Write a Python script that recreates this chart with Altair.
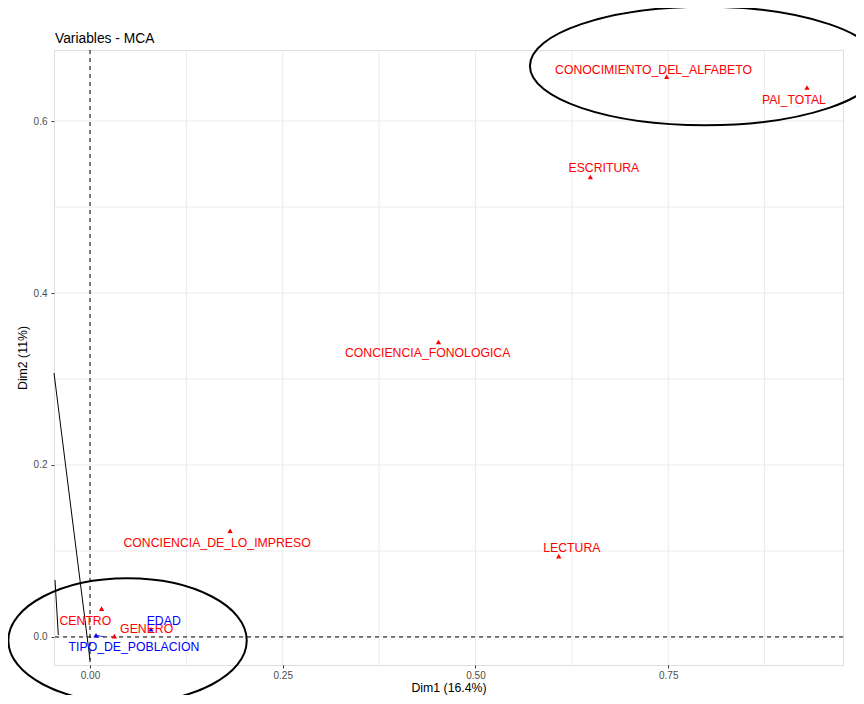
import altair as alt
import pandas as pd

# ---- data ----
names = ["CONOCIMIENTO_DEL_ALFABETO", "PAI_TOTAL", "ESCRITURA", "CONCIENCIA_FONOLOGICA",
         "LECTURA", "CONCIENCIA_DE_LO_IMPRESO", "CENTRO", "GENERO", "EDAD", "TIPO_DE_POBLACION"]
dim1 = [0.748, 0.930, 0.649, 0.452, 0.608, 0.1817, 0.015, 0.0316, 0.079, 0.0078]
dim2 = [0.6515, 0.639, 0.535, 0.343, 0.094, 0.1236, 0.033, 0.001, 0.009, 0.002]
kind = ["active"] * 8 + ["supplementary"] * 2
# label (repelled) positions
lab_x = [0.731, 0.913, 0.6665, 0.438, 0.625, 0.1648, -0.006, 0.0735, 0.0956, 0.057]
lab_y = [0.659, 0.624, 0.545, 0.330, 0.103, 0.109, 0.019, 0.009, 0.018, -0.0113]

# small repel segment for TIPO_DE_POBLACION
rep_x = [0.0078]
rep_y = [0.002]
rep_x2 = [0.019]
rep_y2 = [0.0]

# hand-drawn annotation lines
ann_x = [-0.0467, -0.0454]
ann_y = [0.307, 0.0663]
ann_x2 = [0.0, -0.0411]
ann_y2 = [-0.0267, 0.0023]

# hand-drawn ellipses (centre, semi-axis in px, ratio)
ell_x = [0.798, 0.0487]
ell_y = [0.664, -0.0041]
ell_a = [175.3, 119.2]
ell_r = [0.338, 0.522]

x_major = [0.0, 0.25, 0.5, 0.75]
x_minor = [0.125, 0.375, 0.625, 0.875]
y_major = [0.0, 0.2, 0.4, 0.6]
y_minor = [0.1, 0.3, 0.5]

titles = ["Variables - MCA"]

XDOM = [-0.0467, 0.9767]
YDOM = [-0.0326, 0.6826]
FONT = "Liberation Sans"

pts = pd.DataFrame({"name": names, "dim1": dim1, "dim2": dim2, "kind": kind,
                    "lx": lab_x, "ly": lab_y})

xs = alt.Scale(domain=XDOM, nice=False, zero=False, padding=0)
ys = alt.Scale(domain=YDOM, nice=False, zero=False, padding=0)
color = alt.Scale(domain=["active", "supplementary"], range=["#FF0000", "#0000FF"])

xaxis = alt.Axis(values=x_major, format=".2f", title="Dim1 (16.4%)", grid=False, domain=False,
                 tickSize=3, tickColor="#333333", labelColor="#4D4D4D", labelFontSize=10,
                 labelPadding=2, labelFont=FONT, titleFont=FONT, titleFontSize=12.3,
                 titleFontWeight="normal", titleColor="#000000", titlePadding=1)
yaxis = alt.Axis(values=y_major, format=".1f", title="Dim2 (11%)", grid=False, domain=False,
                 tickSize=3, tickColor="#333333", labelColor="#4D4D4D", labelFontSize=10,
                 labelPadding=4, labelFont=FONT, titleFont=FONT, titleFontSize=12.3,
                 titleFontWeight="normal", titleColor="#000000", titlePadding=4)

# grid
gx = alt.Chart(pd.DataFrame({"v": x_major + x_minor})).mark_rule(
    color="#EBEBEB", strokeWidth=1).encode(x=alt.X("v:Q", scale=xs, axis=xaxis))
gy = alt.Chart(pd.DataFrame({"v": y_major + y_minor})).mark_rule(
    color="#EBEBEB", strokeWidth=1).encode(y=alt.Y("v:Q", scale=ys, axis=yaxis))

# zero dashed lines
zx = alt.Chart(pd.DataFrame({"v": [0.0]})).mark_rule(
    color="#000000", strokeWidth=1, strokeDash=[4, 4]).encode(x=alt.X("v:Q", scale=xs))
zy = alt.Chart(pd.DataFrame({"v": [0.0]})).mark_rule(
    color="#000000", strokeWidth=1, strokeDash=[4, 4]).encode(y=alt.Y("v:Q", scale=ys))

# annotation lines
ann = alt.Chart(pd.DataFrame({"x": ann_x, "y": ann_y, "x2": ann_x2, "y2": ann_y2})).mark_rule(
    color="#000000", strokeWidth=1).encode(
    x=alt.X("x:Q", scale=xs), y=alt.Y("y:Q", scale=ys), x2="x2:Q", y2="y2:Q")

rep = alt.Chart(pd.DataFrame({"x": rep_x, "y": rep_y, "x2": rep_x2, "y2": rep_y2})).mark_rule(
    color="#0000FF", strokeWidth=0.8).encode(
    x=alt.X("x:Q", scale=xs), y=alt.Y("y:Q", scale=ys), x2="x2:Q", y2="y2:Q")

points = alt.Chart(pts).mark_point(shape="triangle-up", filled=True, opacity=1, size=28).encode(
    x=alt.X("dim1:Q", scale=xs), y=alt.Y("dim2:Q", scale=ys),
    color=alt.Color("kind:N", scale=color, legend=None))

labels = alt.Chart(pts).mark_text(font=FONT, fontSize=12.25, align="center",
                                   baseline="middle").encode(
    x=alt.X("lx:Q", scale=xs), y=alt.Y("ly:Q", scale=ys), text="name:N",
    color=alt.Color("kind:N", scale=color, legend=None))

title_txt = alt.Chart(pd.DataFrame({"t": titles})).mark_text(
    font=FONT, fontSize=13.8, align="left", baseline="middle", color="#000000", clip=False
).encode(x=alt.value(1), y=alt.value(-11), text="t:N")

k = 0.5523
layers = []
for cx, cy, a, r in zip(ell_x, ell_y, ell_a, ell_r):
    path = (f"M -1 0 C -1 {-k*r:.4f} {-k:.4f} {-r:.4f} 0 {-r:.4f} "
            f"C {k:.4f} {-r:.4f} 1 {-k*r:.4f} 1 0 "
            f"C 1 {k*r:.4f} {k:.4f} {r:.4f} 0 {r:.4f} "
            f"C {-k:.4f} {r:.4f} -1 {k*r:.4f} -1 0 Z")
    e = alt.Chart(pd.DataFrame({"x": [cx], "y": [cy]})).mark_point(
        shape=path, filled=False, stroke="#000000", strokeWidth=2, opacity=1,
        size=4 * a * a, clip=False).encode(
        x=alt.X("x:Q", scale=xs), y=alt.Y("y:Q", scale=ys))
    layers.append(e)

chart = alt.layer(gx, gy, zx, zy, ann, rep, points, labels, title_txt, *layers).properties(
    width=789, height=615,
    autosize=alt.AutoSizeParams(type="none"),
    padding={"left": 46, "top": 42, "right": 13, "bottom": 30},
).configure_view(stroke=None).configure(background="#FFFFFF")

chart.save("out.html", embed_options={"renderer": "svg", "actions": False})
